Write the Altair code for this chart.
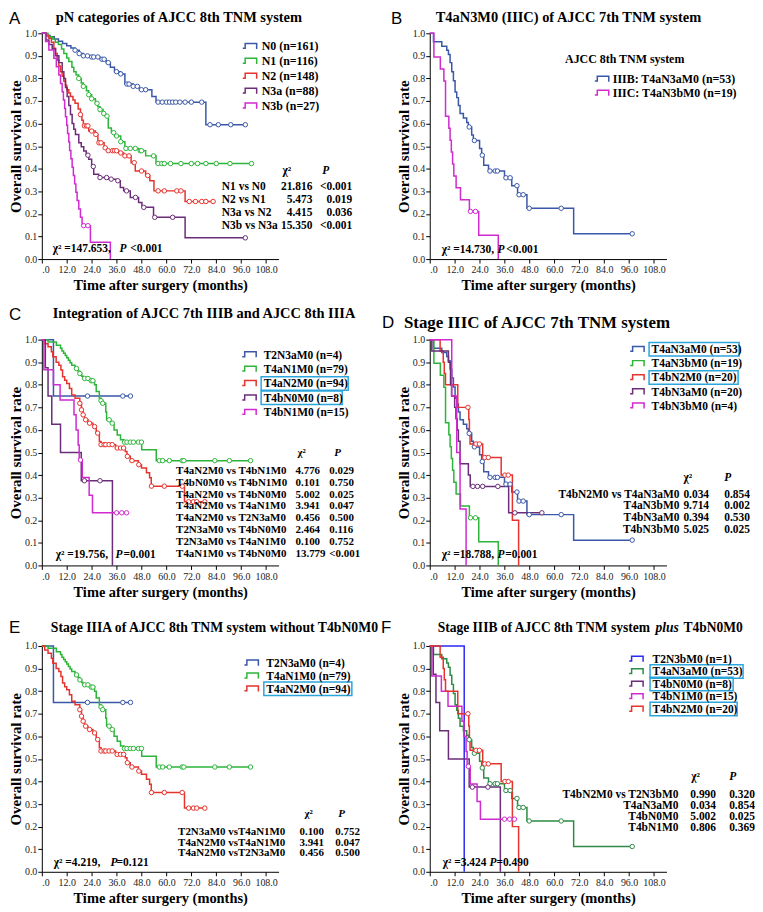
import altair as alt
import pandas as pd

SERIF = "Liberation Serif"
SANS = "Liberation Sans"

# ---------------- Kaplan-Meier curves: (month, survival after the step) and censor months ----------------
N0_STEPS = [(0, 1.0), (2, 0.99), (4, 0.985), (6, 0.975), (8, 0.965), (10, 0.955), (12, 0.945), (14, 0.935),
            (16, 0.925), (18, 0.91), (20, 0.90), (24, 0.895), (28, 0.885), (31, 0.87), (33, 0.85), (35, 0.83),
            (38, 0.82), (40, 0.775), (44, 0.765), (47, 0.75), (53, 0.72), (55, 0.695), (79, 0.595)]
N0_CENS = [16, 18, 20, 22, 24, 25, 27, 29, 30, 32, 36, 38, 41, 42, 44, 46, 48, 50, 56, 58, 60, 61.5, 63,
           64.5, 66.5, 69, 72, 77, 81, 85, 91, 98]

N1_STEPS = [(0, 1.0), (3, 0.985), (5, 0.975), (6.5, 0.96), (8, 0.95), (9.5, 0.93), (10.6, 0.91), (12, 0.89),
            (13, 0.875), (14.5, 0.85), (15.4, 0.83), (16.5, 0.815), (17.8, 0.80), (19, 0.78), (20, 0.765),
            (21.5, 0.745), (22.6, 0.728), (24, 0.71), (25.8, 0.69), (27, 0.675), (28, 0.662), (29.5, 0.645),
            (30.6, 0.633), (32, 0.58), (33.5, 0.56), (35, 0.545), (38, 0.52), (40, 0.49), (46.6, 0.48),
            (50, 0.457), (55, 0.423)]
N1_CENS = [17.8, 20, 22.6, 24, 26.6, 28, 29.8, 31.4, 34.6, 36, 38, 40.5, 42.6, 45, 47.4, 48, 53.8, 56, 57.8,
           59, 62, 67, 72, 75, 79, 84, 90.6, 101]

N2_STEPS = [(0, 1.0), (2, 0.99), (3.4, 0.978), (4.6, 0.96), (5.8, 0.934), (6.6, 0.91), (7.4, 0.88),
            (8.2, 0.855), (9, 0.83), (9.8, 0.81), (10.6, 0.787), (11.4, 0.77), (12, 0.75), (13, 0.735),
            (13.8, 0.72), (15, 0.705), (16, 0.69), (17.5, 0.665), (18.6, 0.64), (19.3, 0.615), (20, 0.59),
            (22.6, 0.567), (25.8, 0.552), (27, 0.515), (30, 0.493), (31.4, 0.48), (37, 0.47), (39.4, 0.457),
            (43, 0.427), (45, 0.39), (50, 0.37), (52, 0.347), (54, 0.302), (69, 0.255)]
N2_CENS = [18.6, 20.5, 21.5, 22.2, 24, 26, 27.5, 28.5, 30.5, 32, 34, 35, 36, 38, 40, 42, 44.5, 48, 51, 56,
           59, 65, 67, 71, 74, 77, 79, 82.5]

N3A_STEPS = [(0, 1.0), (2, 0.97), (3.4, 0.95), (5, 0.93), (6.6, 0.90), (8.2, 0.87), (9.8, 0.83), (10.6, 0.80),
             (11.4, 0.76), (12.2, 0.72), (13, 0.68), (13.8, 0.64), (14.6, 0.60), (15.4, 0.575), (16.2, 0.552),
             (17.8, 0.515), (19, 0.497), (20.2, 0.479), (21.4, 0.46), (22.6, 0.442), (24, 0.41), (25, 0.376),
             (27.4, 0.361), (31.4, 0.354), (36, 0.347), (37.8, 0.317), (39.4, 0.302), (42.6, 0.273),
             (46.6, 0.251), (48.2, 0.229), (53.8, 0.185), (69, 0.094)]
N3A_CENS = [22.2, 24.8, 28, 31.2, 33.4, 36.6, 40.8, 45.1, 49.1, 54.4, 63, 98]

N3B_STEPS = [(0, 1.0), (1.8, 0.963), (3.4, 0.926), (5.8, 0.889), (7, 0.852), (8.2, 0.815), (9, 0.778),
             (9.8, 0.741), (10.4, 0.704), (11, 0.667), (11.4, 0.630), (12, 0.593), (12.4, 0.556), (13, 0.519),
             (13.4, 0.481), (14, 0.444), (14.6, 0.407), (15.2, 0.370), (15.8, 0.333), (16.4, 0.296),
             (17, 0.259), (17.8, 0.222), (18.6, 0.185), (19.4, 0.148), (23.4, 0.074), (33, 0.0)]
N3B_CENS = [20.2, 22.2]

T2N3A_STEPS = [(0, 1.0), (5.6, 0.75)]
T2N3A_CENS = [22, 39, 42.7]

T4AN1_STEPS = [(0, 1.0), (3, 0.99), (7, 0.975), (9, 0.962), (9.7, 0.95), (10.5, 0.94), (11.3, 0.93),
               (12, 0.92), (12.8, 0.909), (13.6, 0.898), (14.4, 0.887), (16, 0.872), (17.5, 0.86),
               (18.3, 0.85), (19.2, 0.838), (19.9, 0.828), (23, 0.818), (25.4, 0.80), (26.2, 0.77),
               (27.7, 0.74), (28.5, 0.73), (29.3, 0.718), (30.8, 0.68), (31.2, 0.645), (33.2, 0.63),
               (34.8, 0.60), (36.3, 0.578), (37.9, 0.557), (39.5, 0.546), (48.1, 0.512), (55.1, 0.464)]
T4AN1_CENS = [16.7, 18.3, 20.6, 22.2, 23.8, 24.6, 28.5, 29.3, 32.4, 33.9, 39.8, 41, 42.6, 44.1, 46.5, 48,
              56.6, 58.2, 61.4, 67.6, 68.4, 83.3, 90.3, 100.5]

T4AN2_STEPS = [(0, 1.0), (1.4, 0.982), (3, 0.968), (4.6, 0.946), (5.3, 0.924), (6.9, 0.90), (8.2, 0.887),
               (9.2, 0.865), (10, 0.836), (11, 0.82), (12, 0.806), (13.3, 0.784), (14.4, 0.755), (16, 0.74),
               (18.3, 0.718), (19.1, 0.689), (19.9, 0.667), (20.6, 0.645), (22.2, 0.63), (24.6, 0.615),
               (26.2, 0.586), (27.7, 0.549), (28.5, 0.535), (35.5, 0.52), (40.2, 0.505), (41, 0.483),
               (42.6, 0.464), (46.5, 0.446), (48, 0.432), (50.4, 0.41), (51.9, 0.388), (52.7, 0.351),
               (68.7, 0.282)]
T4AN2_CENS = [18.3, 19.1, 19.9, 21.1, 23, 25.4, 26.9, 28.5, 30, 30.8, 32.4, 33.9, 36.3, 37.9, 39.4, 41.2,
              43.4, 46.7, 52.8, 59, 67.6, 70.7, 73, 74.6, 78.5]

T4BN0_STEPS = [(0, 1.0), (1.7, 0.875), (3, 0.75), (4.8, 0.625), (9, 0.5), (19, 0.375), (34, 0.0)]
T4BN0_CENS = [20.5, 28]

T4BN1_STEPS = [(0, 1.0), (1, 0.867), (5.6, 0.8), (8.8, 0.733), (15.5, 0.667), (16.5, 0.6), (17.5, 0.533),
               (18, 0.467), (19.5, 0.389), (22.8, 0.311), (24.4, 0.233)]
T4BN1_CENS = [18.6, 36, 38.5, 40.8]

T4AN3A_STEPS = [(0, 1.0), (1.8, 0.962), (5.8, 0.943), (8.2, 0.925), (9, 0.906), (9.8, 0.87), (10.6, 0.83),
                (11.4, 0.79), (12.2, 0.74), (13, 0.715), (13.8, 0.68), (14.6, 0.645), (16.2, 0.625),
                (17.8, 0.605), (18.6, 0.585), (20.2, 0.55), (21, 0.525), (24, 0.49), (25, 0.46), (26, 0.415),
                (28.3, 0.39), (36, 0.36), (39.5, 0.325), (42.3, 0.285), (46.8, 0.225), (69.3, 0.112)]
T4AN3A_CENS = [19, 21.5, 25.3, 29, 31.5, 32.6, 36.7, 38.7, 42, 43, 45, 47.9, 63.3, 97.5]

T4AN3B_STEPS = [(0, 1.0), (2, 0.895), (5.1, 0.842), (6.8, 0.789), (7.6, 0.632), (9.2, 0.579), (9.8, 0.526),
                (10.4, 0.474), (11, 0.421), (11.6, 0.368), (12.7, 0.316), (14.8, 0.263), (19.1, 0.211),
                (23.6, 0.105), (33, 0.0)]
T4AN3B_CENS = [19.6, 22]

T4BN2_STEPS = [(0, 1.0), (5, 0.95), (6.5, 0.9), (7, 0.85), (7.6, 0.8), (13.5, 0.7), (18.8, 0.646),
               (19.1, 0.592), (19.4, 0.538), (25.5, 0.478), (34.4, 0.4), (39.8, 0.2), (42.8, 0.0)]
T4BN2_CENS = [18.4, 22.3, 23.9, 26.5, 28.2, 36.2, 37.8]

T4BN3A_STEPS = [(0, 1.0), (1, 0.95), (9, 0.9), (10, 0.8), (10.5, 0.75), (12, 0.7), (12.6, 0.65),
                (13.2, 0.6), (13.8, 0.55), (14.6, 0.45), (18.6, 0.4), (19.5, 0.35), (38, 0.233)]
T4BN3A_CENS = [20.8, 23, 25.5, 32.8, 41, 54]

T4BN3B_STEPS = [(0, 1.0), (10.6, 0.75), (13, 0.5), (14.6, 0.25), (17.5, 0.0)]
T4BN3B_CENS = []

T2N3B_STEPS = [(0, 1.0), (16.6, 0.0)]
T2N3B_CENS = []

# ---------------- legend labels, statistics ----------------
A_LABELS = ["N0 (n=161)", "N1 (n=116)", "N2 (n=148)", "N3a (n=88)", "N3b (n=27)"]
A_STATS = [("N1 vs N0", "21.816", "<0.001"), ("N2 vs N1", "5.473", "0.019"),
           ("N3a vs N2", "4.415", "0.036"), ("N3b vs N3a", "15.350", "<0.001")]
B_LABELS = ["IIIB: T4aN3aM0 (n=53)", "IIIC: T4aN3bM0 (n=19)"]
C_LABELS = ["T2N3aM0 (n=4)", "T4aN1M0 (n=79)", "T4aN2M0 (n=94)", "T4bN0M0 (n=8)", "T4bN1M0 (n=15)"]
C_STATS = [("T4aN2M0 vs T4bN1M0", "4.776", "0.029"), ("T4bN0M0 vs T4bN1M0", "0.101", "0.750"),
           ("T4aN2M0 vs T4bN0M0", "5.002", "0.025"), ("T4aN2M0 vs T4aN1M0", "3.941", "0.047"),
           ("T4aN2M0 vs T2N3aM0", "0.456", "0.500"), ("T2N3aM0 vs T4bN0M0", "2.464", "0.116"),
           ("T2N3aM0 vs T4aN1M0", "0.100", "0.752"), ("T4aN1M0 vs T4bN0M0", "13.779", "<0.001")]
D_LABELS = ["T4aN3aM0 (n=53)", "T4aN3bM0 (n=19)", "T4bN2M0 (n=20)", "T4bN3aM0 (n=20)", "T4bN3bM0 (n=4)"]
D_STATS = [("T4bN2M0 vs T4aN3aM0", "0.034", "0.854"), ("T4aN3bM0", "9.714", "0.002"),
           ("T4bN3aM0", "0.394", "0.530"), ("T4bN3bM0", "5.025", "0.025")]
E_LABELS = ["T2N3aM0 (n=4)", "T4aN1M0 (n=79)", "T4aN2M0 (n=94)"]
E_STATS = [("T2N3aM0 vsT4aN1M0", "0.100", "0.752"), ("T4aN2M0 vsT4aN1M0", "3.941", "0.047"),
           ("T4aN2M0 vsT2N3aM0", "0.456", "0.500")]
F_LABELS = ["T2N3bM0 (n=1)", "T4aN3aM0 (n=53)", "T4bN0M0 (n=8)", "T4bN1M0 (n=15)", "T4bN2M0 (n=20)"]
F_STATS = [("T4bN2M0 vs T2N3bM0", "0.990", "0.320"), ("T4aN3aM0", "0.034", "0.854"),
           ("T4bN0M0", "5.002", "0.025"), ("T4bN1M0", "0.806", "0.369")]

# ---------------- styling ----------------
BLUE, GREEN, RED, PURPLE, MAGENTA = "#3b58a8", "#2db53a", "#e6332e", "#6b2c78", "#d02ad0"
BRIGHT_BLUE, DARK_GREEN, CYAN = "#2a2af5", "#2e8b46", "#2aa6dc"
W, H, X_MAX = 238, 227, 114
SYM = "M-1,0.3 L-0.65,0.3 L-0.65,-0.4 L1,-0.4 L1,0.4"


def km_rows(name, steps, cens):
    line = [dict(g=name, t=t, s=s) for t, s in steps]
    last_t, last_s = steps[-1]
    if last_s > 0 and cens and max(cens) > last_t:
        line.append(dict(g=name, t=max(cens), s=last_s))
    pts = []
    for c in cens:
        s_at = [s for t, s in steps if t <= c][-1]
        pts.append(dict(g=name, t=c, s=s_at))
    return line, pts


def txt(text, x, y, size=12, weight="bold", style="normal", align="left", font=SERIF, lh=None):
    kw = dict(align=align, baseline="alphabetic", font=font, fontSize=size, fontWeight=weight,
              fontStyle=style, color="black", lineBreak="\n")
    if lh:
        kw["lineHeight"] = lh
    return alt.Chart(pd.DataFrame({"t": [text]})).mark_text(**kw).encode(
        text="t:N", x=alt.value(x), y=alt.value(y))


def panel(p):
    names = p["labels"]
    line_rows, pt_rows = [], []
    for name, (steps, cens) in zip(names, p["curves"]):
        l, q = km_rows(name, steps, cens)
        line_rows += l
        pt_rows += q
    cscale = alt.Scale(domain=names, range=p["colors"])
    xenc = alt.X("t:Q", scale=alt.Scale(domain=[0, X_MAX], nice=False, zero=True),
                 axis=alt.Axis(values=list(range(0, 109, 12)),
                               labelExpr="datum.value == 0 ? '.0' : format(datum.value, '.1f')",
                               title="Time after surgery (months)"))
    yenc = alt.Y("s:Q", scale=alt.Scale(domain=[0, 1], nice=False),
                 axis=alt.Axis(values=[i / 10 for i in range(11)], format=".1f",
                               title="Overall survival rate"))
    cenc = alt.Color("g:N", scale=cscale, legend=None)
    lines = alt.Chart(pd.DataFrame(line_rows)).mark_line(
        interpolate="step-after", strokeWidth=1.5).encode(xenc, yenc, cenc)
    layers = [lines]
    if pt_rows:
        pts = alt.Chart(pd.DataFrame(pt_rows)).mark_point(
            shape="circle", size=20, strokeWidth=1, filled=False, fill="white", opacity=1
        ).encode(xenc, yenc, cenc)
        layers.append(pts)

    # panel letter and title
    layers.append(txt(p["letter"], p["letter_pos"][0], p["letter_pos"][1], size=17, weight="normal", font=SANS))
    for s, x, st in p["title"]:
        layers.append(txt(s, x, p["title_y"], size=p.get("title_size", 14.5), style=st))

    # legend
    if p.get("legend_title"):
        lt, lx, ly = p["legend_title"]
        layers.append(txt(lt, lx, ly, size=12))
    r0, dy = p["row0"], p["row_dy"]
    for i, col in enumerate(p["colors"]):
        yc = r0 + i * dy
        layers.append(alt.Chart(pd.DataFrame({"a": [0]})).mark_point(
            shape=SYM, size=196, filled=False, stroke=col, strokeWidth=1.5, opacity=1
        ).encode(x=alt.value(p["sym_x"]), y=alt.value(yc)))
        if i in p.get("boxes", {}):
            layers.append(alt.Chart(pd.DataFrame({"a": [0]})).mark_rect(
                fill="transparent", stroke=CYAN, strokeWidth=1.5
            ).encode(x=alt.value(p["lab_x"] - 2.5), x2=alt.value(p["lab_x"] + p["boxes"][i]),
                     y=alt.value(yc - 6.8), y2=alt.value(yc + 6.8)))
    layers.append(txt("\n".join(names), p["lab_x"], r0 + 4, size=p["lab_size"], lh=dy))

    # statistics table
    st = p.get("stats")
    if st:
        rows = st["rows"]
        by = st["y0"] + 4
        layers.append(txt("\n".join(r[0] for r in rows), st["lx"], by, size=st["size"], align=st["la"], lh=st["dy"]))
        layers.append(txt("\n".join(r[1] for r in rows), st["cx"], by, size=st["size"], align=st["ca"], lh=st["dy"]))
        layers.append(txt("\n".join(r[2] for r in rows), st["px"], by, size=st["size"], align=st["pa"], lh=st["dy"]))
        layers.append(txt("χ²", st["hcx"], st["hy"] + 4, size=st["size"]))
        layers.append(txt("P", st["hpx"], st["hy"] + 4, size=st["size"], style="italic"))

    # overall test
    cy = p["chi_y"] + 4
    for s, x, stl in p["chi"]:
        layers.append(txt(s, x, cy, size=11.5, style=stl))

    return alt.layer(*layers).properties(width=W, height=H)


N, I = "normal", "italic"
pA = panel(dict(
    labels=A_LABELS, colors=[BLUE, GREEN, RED, PURPLE, MAGENTA],
    curves=[(N0_STEPS, N0_CENS), (N1_STEPS, N1_CENS), (N2_STEPS, N2_CENS), (N3A_STEPS, N3A_CENS), (N3B_STEPS, N3B_CENS)],
    letter="A", letter_pos=(-33, -9), title=[("pN categories of AJCC 8th TNM system", 14, N)], title_y=-11,
    row0=13, row_dy=15, sym_x=209, lab_x=221, lab_size=12,
    stats=dict(rows=A_STATS, lx=181, la="left", cx=272, ca="right", px=312, pa="right", y0=154, dy=12.8,
               size=11.5, hy=137, hcx=242, hpx=282),
    chi_y=216, chi=[("χ² =147.653,", 11, N), ("P", 78, I), ("<0.001", 89, N)]))

pB = panel(dict(
    labels=B_LABELS, colors=[BLUE, MAGENTA],
    curves=[(T4AN3A_STEPS, T4AN3A_CENS), (T4AN3B_STEPS, T4AN3B_CENS)],
    letter="B", letter_pos=(-39, -9), title=[("T4aN3M0 (IIIC) of AJCC 7th TNM system", 6, N)], title_y=-11,
    legend_title=("AJCC 8th TNM  system", 136, 30),
    row0=46, row_dy=14, sym_x=173, lab_x=184, lab_size=12,
    chi_y=217, chi=[("χ² =14.730,", 12, N), ("P", 68, I), ("<0.001", 77, N)]))

pC = panel(dict(
    labels=C_LABELS, colors=[BLUE, GREEN, RED, PURPLE, MAGENTA],
    curves=[(T2N3A_STEPS, T2N3A_CENS), (T4AN1_STEPS, T4AN1_CENS), (T4AN2_STEPS, T4AN2_CENS),
            (T4BN0_STEPS, T4BN0_CENS), (T4BN1_STEPS, T4BN1_CENS)],
    letter="C", letter_pos=(-33, -20), title=[("Integration of AJCC 7th IIIB and AJCC 8th IIIA", 11, N)], title_y=-22,
    row0=15, row_dy=14.5, sym_x=208.5, lab_x=223, lab_size=11.5, boxes={2: 85, 3: 79},
    stats=dict(rows=C_STATS, lx=135, la="left", cx=255, ca="left", px=289, pa="left", y0=131, dy=11.9,
               size=11, hy=113, hcx=257, hpx=294),
    chi_y=216, chi=[("χ² =19.756,", 14, N), ("P", 74, I), ("=0.001", 82, N)]))

pD = panel(dict(
    labels=D_LABELS, colors=[BLUE, GREEN, RED, PURPLE, MAGENTA],
    curves=[(T4AN3A_STEPS, T4AN3A_CENS), (T4AN3B_STEPS, T4AN3B_CENS), (T4BN2_STEPS, T4BN2_CENS),
            (T4BN3A_STEPS, T4BN3A_CENS), (T4BN3B_STEPS, T4BN3B_CENS)],
    letter="D", letter_pos=(-48, -12), title=[("Stage IIIC of AJCC 7th TNM system", -26, N)], title_y=-12,
    title_size=17,
    row0=9.7, row_dy=14.2, sym_x=208.5, lab_x=223, lab_size=11.5, boxes={0: 88, 2: 87},
    stats=dict(rows=D_STATS, lx=251, la="right", cx=255, ca="left", px=296, pa="left", y0=155, dy=11.7,
               size=11.5, hy=138, hcx=255, hpx=296),
    chi_y=216, chi=[("χ² =18.788,", 12, N), ("P", 68, I), ("=0.001", 76, N)]))

pE = panel(dict(
    labels=E_LABELS, colors=[BLUE, GREEN, RED],
    curves=[(T2N3A_STEPS, T2N3A_CENS), (T4AN1_STEPS, T4AN1_CENS), (T4AN2_STEPS, T4AN2_CENS)],
    letter="E", letter_pos=(-33, -13), title=[("Stage IIIA of AJCC 8th TNM system without T4bN0M0", 9, N)], title_y=-14,
    title_size=13.8,
    row0=17, row_dy=13, sym_x=210.7, lab_x=225.7, lab_size=11.5, boxes={2: 86},
    stats=dict(rows=E_STATS, lx=137, la="left", cx=259, ca="left", px=295, pa="left", y0=186, dy=10.8,
               size=11, hy=168, hcx=264, hpx=298),
    chi_y=217, chi=[("χ² =4.219,", 12, N), ("P", 69, I), ("=0.121", 75, N)]))

pF = panel(dict(
    labels=F_LABELS, colors=[BRIGHT_BLUE, DARK_GREEN, PURPLE, MAGENTA, RED],
    curves=[(T2N3B_STEPS, T2N3B_CENS), (T4AN3A_STEPS, T4AN3A_CENS), (T4BN0_STEPS, T4BN0_CENS),
            (T4BN1_STEPS, T4BN1_CENS), (T4BN2_STEPS, T4BN2_CENS)],
    letter="F", letter_pos=(-49, -13),
    title=[("Stage IIIB of AJCC 8th TNM system", 8, N), ("plus", 227, I), ("T4bN0M0", 255, N)], title_y=-14,
    title_size=13.6,
    row0=13, row_dy=12.6, sym_x=207.5, lab_x=224, lab_size=11.5, boxes={1: 91, 2: 81, 4: 85},
    stats=dict(rows=F_STATS, lx=250, la="right", cx=262, ca="left", px=301, pa="left", y0=149, dy=11.1,
               size=11.5, hy=131, hcx=263, hpx=301),
    chi_y=217, chi=[("χ² =3.424", 13, N), ("P", 60, I), ("=0.490", 67, N)]))

chart = alt.concat(pA, pB, pC, pD, pE, pF, columns=2, spacing={"row": 81, "column": 152},
                   bounds="flush").resolve_scale(
    color="independent"
).properties(
    padding={"left": 0, "top": 0, "right": 0, "bottom": 0}
).configure_view(stroke=None).configure_axis(
    grid=False, domainColor="black", domainWidth=1, tickColor="black", tickSize=4,
    labelFont=SERIF, labelFontSize=10, labelColor="#222", titleFont=SERIF, titleFontWeight="bold",
    titleColor="black"
).configure_axisX(titleFontSize=14.5, labelPadding=2, titlePadding=4).configure_axisY(
    titleFontSize=15, labelPadding=1, titlePadding=1)

chart.save("out.html", embed_options={"renderer": "svg", "actions": False})
